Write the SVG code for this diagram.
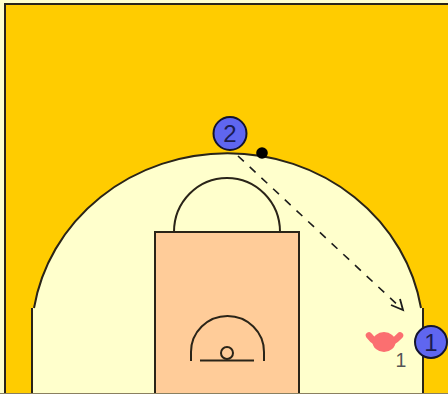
<svg xmlns="http://www.w3.org/2000/svg" width="448" height="394" viewBox="0 0 448 394">
<style>
.line{fill:none;stroke:#2a2418;stroke-width:2}
.player{fill:#5f66f0;stroke:#14142e;stroke-width:2}
.num{font-family:"Liberation Sans",Arial,sans-serif;font-size:24px;fill:#1c1c50;text-anchor:middle}
</style>
<rect width="448" height="394" fill="#ffffcc"/>
<g id="court">
<path d="M5 393V4H448V393Z" fill="#ffcc00"/>
<path d="M448 4H5V393" class="line"/>
<path d="M32 393V308H34A196 184 0 0 1 421 308H423V393Z" fill="#ffffcc"/>
<path d="M32 393V308M34 308A196 184 0 0 1 421 308M423 308V393" class="line"/>
<rect x="155" y="232" width="144" height="163" fill="#ffcc99" stroke="#2a2418" stroke-width="2"/>
<path d="M174 232A53 54 0 0 1 280 232" class="line"/>
<path d="M191 361V352A36.500 36 0 0 1 264 352V361" class="line"/>
<path d="M200 360.500H254" class="line"/>
<circle cx="227" cy="353" r="6" class="line"/>
<rect x="0" y="393" width="448" height="1" fill="#8a8060"/>
</g>
<g id="connectors">
<path d="M238 156L402 309" fill="none" stroke="#1c1c1c" stroke-width="1.600" stroke-dasharray="8 8"/>
<path d="M391 305L403 310L400 299" fill="none" stroke="#1c1c1c" stroke-width="1.800"/>
</g>
<g id="screen-dot"><circle cx="262" cy="153" r="5.800" fill="#000"/></g>
<g id="player-2">
<circle cx="230" cy="133.500" r="16.500" class="player"/>
<text x="230" y="142" class="num">2</text>
</g>
<g id="player-1">
<circle cx="431" cy="342" r="16" class="player"/>
<text x="431" y="350.500" class="num">1</text>
</g>
<g id="defender-1">
<path d="M369 335.500C373 341 378 344 384 344C390 344 395 341 400 335.500" fill="none" stroke="#fb6f70" stroke-width="6.500" stroke-linecap="round"/>
<ellipse cx="384" cy="342" rx="11.500" ry="10" fill="#fb6f70"/>
<text x="401" y="367" font-family="'Liberation Sans',Arial,sans-serif" font-size="19.500" fill="#555" text-anchor="middle">1</text>
</g>
</svg>
